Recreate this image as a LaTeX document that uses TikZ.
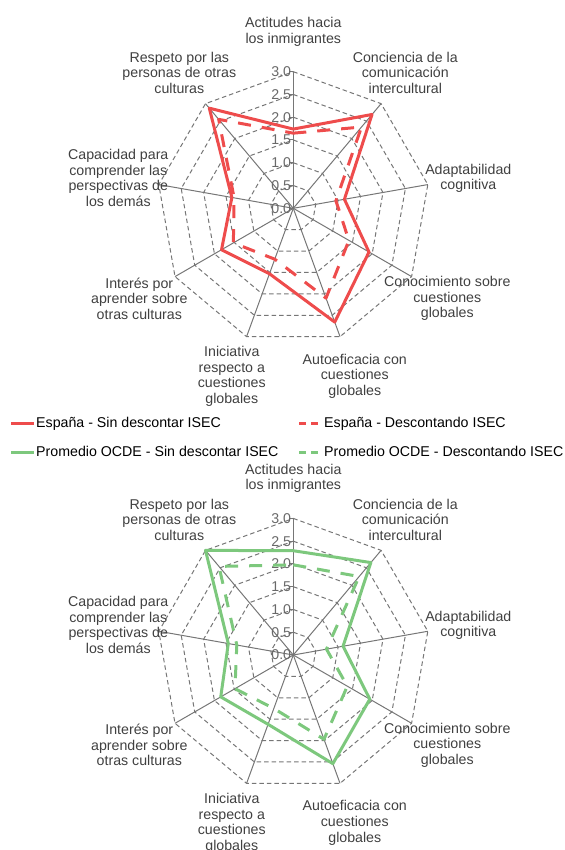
\documentclass[tikz,border=0pt]{standalone}
\usepackage{fontspec}
\setmainfont{Liberation Sans}
\usetikzlibrary{positioning}

\definecolor{espred}{RGB}{238,76,76}
\definecolor{ocdegreen}{RGB}{125,200,125}
\definecolor{gridgray}{RGB}{118,118,118}
\definecolor{textgray}{RGB}{64,64,64}
\definecolor{tickgray}{RGB}{105,105,105}

% nine scores, clockwise from the top axis (1 unit = 45.53pt)
\newcommand{\radarpts}[9]{(90:{#1*45.53}) -- (50:{#2*45.53}) -- (10:{#3*45.53}) -- (-30:{#4*45.53}) -- (-70:{#5*45.53}) -- (-110:{#6*45.53}) -- (-150:{#7*45.53}) -- (170:{#8*45.53}) -- (130:{#9*45.53}) -- cycle}

% grid, axes, scale and category labels of one chart
\newcommand{\radarframe}{%
\foreach \r in {0.5,1.0,1.5,2.0,2.5,3.0}
  \draw[ring] (90:{\r*45.53}) \foreach \a in {50,10,...,-230} { -- (\a:{\r*45.53}) } -- cycle;
\foreach \a in {90,50,...,-230}
  \draw[spoke] (0,0) -- (\a:136.6);
\foreach \v/\t [count=\i] in {0/0.0,0.5/0.5,1/1.0,1.5/1.5,2/2.0,2.5/2.5,3/3.0} {
  \draw[spoke] (-4,{\v*45.53}) -- (0,{\v*45.53});
  \node[ticklabel] (tick\i) at (-2,{\v*45.53}) {\t};
}
\node[catlabel] (actitudes) at (0,176.5) {Actitudes hacia\\los inmigrantes};
\node[catlabel] (conciencia) at (112,135.4) {Conciencia de la\\comunicación\\intercultural};
\node[catlabel] (adaptabilidad) at (175,29.8) {Adaptabilidad\\cognitiva};
\node[catlabel] (conocimiento) at (154,-90.2) {Conocimiento sobre\\cuestiones\\globales};
\node[catlabel] (autoeficacia) at (61.5,-167.8) {Autoeficacia con\\cuestiones\\globales};
\node[catlabel] (iniciativa) at (-61.5,-168.2) {Iniciativa\\respecto a\\cuestiones\\globales};
\node[catlabel] (interes) at (-154,-90.2) {Interés por\\aprender sobre\\otras culturas};
\node[catlabel] (capacidad) at (-175,30.2) {Capacidad para\\comprender las\\perspectivas de\\los demás};
\node[catlabel] (respeto) at (-114,135.4) {Respeto por las\\personas de otras\\culturas};
}

\begin{document}
\begin{tikzpicture}[x=1pt,y=1pt,
  ring/.style={draw=gridgray,line width=1pt,dash pattern=on 4.5pt off 3pt},
  spoke/.style={draw=gridgray,line width=1pt},
  catlabel/.style={font=\fontsize{14.2}{15.6}\selectfont,text=textgray,align=center,inner sep=0pt},
  ticklabel/.style={font=\fontsize{14.2}{15.6}\selectfont,text=tickgray,anchor=east,inner sep=0pt},
  legtext/.style={font=\fontsize{14.2}{15.6}\selectfont,text=black,anchor=west,inner sep=0pt,text height=10.2pt,text depth=3pt},
  espsin/.style={draw=espred,line width=3pt,line join=round},
  espdesc/.style={espsin,dash pattern=on 13pt off 11pt},
  ocdesin/.style={draw=ocdegreen,line width=3pt,line join=round},
  ocdedesc/.style={ocdesin,dash pattern=on 13pt off 11pt}]
\useasboundingbox (0,0) rectangle (564,850);

% Spain
\begin{scope}[shift={(293.3,641.7)},name prefix=esp-]
\radarframe
\draw[espdesc] \radarpts{1.65}{2.33}{0.95}{1.41}{2.10}{1.19}{1.52}{1.32}{2.55};
\draw[espsin] \radarpts{1.74}{2.69}{1.14}{1.92}{2.66}{1.53}{1.82}{1.37}{2.87};
\end{scope}

% legend
\node[legtext] (legespsin) at (36,426) {España - Sin descontar ISEC};
\node[legtext] (legespdesc) at (324,426) {España - Descontando ISEC};
\node[legtext] (legocdesin) at (36,397) {Promedio OCDE - Sin descontar ISEC};
\node[legtext] (legocdedesc) at (324,397) {Promedio OCDE - Descontando ISEC};
\draw[espsin] ([xshift=-25pt]legespsin.west) -- ([xshift=-2pt]legespsin.west);
\draw[espsin,dash pattern=on 7pt off 5pt] ([xshift=-25pt]legespdesc.west) -- ([xshift=-2pt]legespdesc.west);
\draw[ocdesin] ([xshift=-25pt]legocdesin.west) -- ([xshift=-2pt]legocdesin.west);
\draw[ocdesin,dash pattern=on 7pt off 5pt] ([xshift=-25pt]legocdedesc.west) -- ([xshift=-2pt]legocdedesc.west);

% OECD average
\begin{scope}[shift={(293.3,195)},name prefix=ocde-]
\radarframe
\draw[ocdedesc] \radarpts{1.98}{2.25}{0.74}{1.37}{1.97}{1.25}{1.48}{1.26}{2.54};
\draw[ocdesin] \radarpts{2.29}{2.65}{1.11}{1.94}{2.54}{1.62}{1.84}{1.45}{3.00};
\end{scope}

\end{tikzpicture}
\end{document}
